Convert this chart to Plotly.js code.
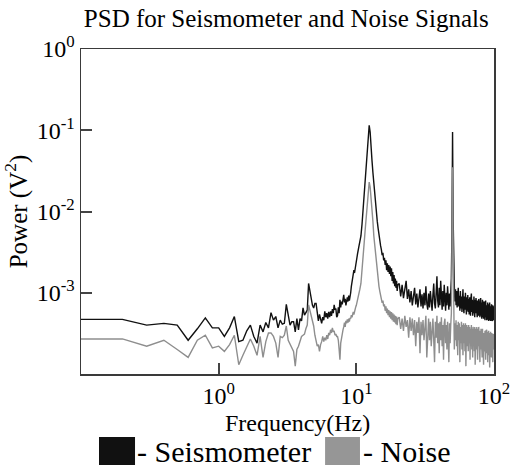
<!DOCTYPE html>
<html>
<head>
<meta charset="utf-8">
<script src="https://cdn.plot.ly/plotly-3.0.1.min.js"></script>
<style>html,body{margin:0;padding:0;background:#fff;}#chart{width:513px;height:468px;}</style>
</head>
<body>
<div id="chart"></div>
<script>
// Frequency bins (Hz), segment A: 0.1 - 9.9
const freqA = [
0.1,0.2,0.3,0.4,0.5,0.6,0.7,0.8,0.9,1.0,
1.1,1.2,1.3,1.4,1.5,1.6,1.7,1.8,1.9,2.0,
2.1,2.2,2.3,2.4,2.5,2.6,2.7,2.8,2.9,3.0,
3.1,3.2,3.3,3.4,3.5,3.6,3.7,3.8,3.9,4.0,
4.1,4.2,4.3,4.4,4.5,4.6,4.7,4.8,4.9,5.0,
5.1,5.2,5.3,5.4,5.5,5.6,5.7,5.8,5.9,6.0,
6.1,6.2,6.3,6.4,6.5,6.6,6.7,6.8,6.9,7.0,
7.1,7.2,7.3,7.4,7.5,7.6,7.7,7.8,7.9,8.0,
8.1,8.2,8.3,8.4,8.5,8.6,8.7,8.8,8.9,9.0,
9.1,9.2,9.3,9.4,9.5,9.6,9.7,9.8,9.9
];
const seisA = [
4.7e-4,4.7e-4,4.0e-4,4.2e-4,4.0e-4,2.6e-4,3.6e-4,4.9e-4,3.7e-4,3.7e-4,
2.9e-4,3.7e-4,5.1e-4,2.5e-4,2.6e-4,3.4e-4,4.0e-4,2.9e-4,2.4e-4,4.0e-4,
3.3e-4,4.3e-4,3.7e-4,5.7e-4,4.6e-4,5.1e-4,3.7e-4,4.6e-4,4.1e-4,4.2e-4,
7.2e-4,5.1e-4,4.0e-4,4.4e-4,4.4e-4,3.3e-4,4.8e-4,3.5e-4,4.8e-4,4.5e-4,
6.5e-4,5.3e-4,5.8e-4,6.1e-4,1.3e-3,1.0e-3,8.2e-4,7.0e-4,6.5e-4,7.4e-4,
7.4e-4,5.2e-4,4.5e-4,5.4e-4,4.8e-4,4.2e-4,5.0e-4,4.6e-4,5.9e-4,5.0e-4,
5.6e-4,4.8e-4,5.8e-4,5.0e-4,5.9e-4,5.2e-4,6.3e-4,5.6e-4,7.1e-4,6.2e-4,
6.4e-4,5.0e-4,5.2e-4,6.6e-4,5.6e-4,8.2e-4,6.6e-4,7.8e-4,7.2e-4,8.6e-4,
9.4e-4,7.6e-4,8.4e-4,7.0e-4,7.6e-4,8.8e-4,7.8e-4,9.2e-4,8.0e-4,8.8e-4,
1.0e-3,1.2e-3,1.4e-3,1.5e-3,1.6e-3,1.9e-3,1.75e-3,2.0e-3,2.3e-3
];
const noiseA = [
2.7e-4,2.7e-4,2.2e-4,2.6e-4,2.0e-4,1.6e-4,2.6e-4,3.0e-4,2.1e-4,2.2e-4,
1.9e-4,2.3e-4,3.0e-4,1.3e-4,1.7e-4,2.2e-4,2.7e-4,2.2e-4,1.7e-4,2.9e-4,
1.6e-4,2.5e-4,3.2e-4,3.2e-4,2.9e-4,2.4e-4,1.6e-4,2.9e-4,2.8e-4,3.0e-4,
3.9e-4,2.6e-4,2.3e-4,2.1e-4,1.9e-4,1.25e-4,2.0e-4,2.2e-4,2.6e-4,2.9e-4,
3.0e-4,3.1e-4,3.6e-4,4.0e-4,7.1e-4,6.0e-4,5.3e-4,4.2e-4,3.9e-4,3.0e-4,
2.6e-4,2.2e-4,2.3e-4,1.9e-4,2.3e-4,2.5e-4,2.9e-4,2.5e-4,2.8e-4,2.6e-4,
3.0e-4,2.7e-4,3.2e-4,3.0e-4,3.5e-4,3.2e-4,3.7e-4,3.3e-4,3.4e-4,3.0e-4,
3.1e-4,2.9e-4,2.9e-4,2.6e-4,2.0e-4,1.5e-4,2.4e-4,2.9e-4,3.0e-4,3.5e-4,
3.8e-4,4.3e-4,3.8e-4,4.5e-4,4.2e-4,4.7e-4,4.3e-4,4.8e-4,4.4e-4,4.9e-4,
4.8e-4,5.3e-4,5.0e-4,5.6e-4,5.8e-4,5.4e-4,6.0e-4,6.4e-4,6.7e-4
];

// Segment B: 10.0 - 20.0
const freqB = [
10.0,10.2,10.4,10.6,10.8,11.0,11.2,11.4,11.6,11.8,
12.0,12.2,12.4,12.6,12.8,13.0,13.2,13.4,13.6,13.8,
14.0,14.2,14.4,14.6,14.8,15.0,15.2,15.4,15.6,15.8,
16.0,16.2,16.4,16.6,16.8,17.0,17.2,17.4,17.6,17.8,
18.0,18.2,18.4,18.6,18.8,19.0,19.2,19.4,19.6,19.8,
20.0
];
const seisB = [
2.6e-3,3.0e-3,3.6e-3,4.2e-3,5.0e-3,7.0e-3,1.1e-2,1.8e-2,2.6e-2,3.8e-2,
5.5e-2,8.0e-2,0.115,0.095,0.07,4.2e-2,3.0e-2,2.2e-2,1.5e-2,1.1e-2,
9.5e-3,7.5e-3,6.2e-3,5.0e-3,4.6e-3,3.8e-3,3.4e-3,2.9e-3,3.1e-3,2.5e-3,
2.7e-3,2.2e-3,2.5e-3,1.9e-3,2.3e-3,1.8e-3,2.2e-3,1.7e-3,2.1e-3,1.6e-3,
2.0e-3,1.4e-3,1.8e-3,1.3e-3,1.65e-3,1.2e-3,1.5e-3,1.15e-3,1.4e-3,1.05e-3,
1.25e-3
];
const noiseB = [
7.0e-4,8.0e-4,9.5e-4,1.1e-3,1.3e-3,1.8e-3,2.8e-3,4.1e-3,6.0e-3,9.0e-3,
1.3e-2,1.8e-2,2.3e-2,2.0e-2,1.5e-2,1.05e-2,7.5e-3,5.0e-3,3.8e-3,2.8e-3,
2.2e-3,1.7e-3,1.4e-3,1.2e-3,1.05e-3,9.5e-4,8.8e-4,7.5e-4,8.0e-4,6.8e-4,
7.2e-4,6.0e-4,6.8e-4,5.6e-4,6.4e-4,5.3e-4,6.1e-4,5.0e-4,5.9e-4,4.8e-4,
5.8e-4,4.6e-4,5.6e-4,4.4e-4,5.4e-4,4.3e-4,5.2e-4,4.1e-4,5.1e-4,4.0e-4,
4.8e-4
];

// Segment C: 20.5 - 100
const freqC = [
20.5,21.0,21.5,22.0,22.5,23.0,23.5,24.0,24.5,25.0,
25.5,26.0,26.5,27.0,27.5,28.0,28.5,29.0,29.5,30.0,
30.5,31.0,31.5,32.0,32.5,33.0,33.5,34.0,34.5,35.0,
35.5,36.0,36.5,37.0,37.5,38.0,38.5,39.0,39.5,40.0,
40.5,41.0,41.5,42.0,42.5,43.0,43.5,44.0,44.5,45.0,
45.5,46.0,46.5,47.0,47.5,48.0,48.5,49.0,49.5,50.0,
50.5,51.0,51.5,52.0,52.5,53.0,53.5,54.0,54.5,55.0,
55.5,56.0,56.5,57.0,57.5,58.0,58.5,59.0,59.5,60.0,
60.5,61.0,61.5,62.0,62.5,63.0,63.5,64.0,64.5,65.0,
65.5,66.0,66.5,67.0,67.5,68.0,68.5,69.0,69.5,70.0,
70.5,71.0,71.5,72.0,72.5,73.0,73.5,74.0,74.5,75.0,
75.5,76.0,76.5,77.0,77.5,78.0,78.5,79.0,79.5,80.0,
80.5,81.0,81.5,82.0,82.5,83.0,83.5,84.0,84.5,85.0,
85.5,86.0,86.5,87.0,87.5,88.0,88.5,89.0,89.5,90.0,
90.5,91.0,91.5,92.0,92.5,93.0,93.5,94.0,94.5,95.0,
95.5,96.0,96.5,97.0,97.5,98.0,98.5,99.0,99.5,100.0
];
const seisC = [
1.3e-3,9.0e-4,1.25e-3,8.6e-4,1.2e-3,1.4e-3,8.4e-4,1.1e-3,7.6e-4,1.05e-3,
7.0e-4,1.0e-3,1.15e-3,7.2e-4,9.8e-4,6.6e-4,9.4e-4,1.1e-3,6.8e-4,9.6e-4,
6.4e-4,1.0e-3,7.0e-4,1.2e-3,7.4e-4,6.2e-4,9.8e-4,6.6e-4,1.05e-3,7.2e-4,
6.0e-4,9.4e-4,1.3e-3,7.4e-4,6.4e-4,1.0e-3,1.6e-3,8.0e-4,6.6e-4,1.15e-3,
7.0e-4,1.4e-3,7.8e-4,6.2e-4,1.05e-3,6.8e-4,1.25e-3,7.2e-4,6.0e-4,1.0e-3,
7.0e-4,1.2e-3,7.6e-4,6.2e-4,9.8e-4,6.8e-4,1.0e-3,1.5e-3,6.0e-3,9.5e-2,
8.0e-3,1.7e-3,1.2e-3,7.8e-4,1.1e-3,7.0e-4,1.05e-3,6.6e-4,9.6e-4,1.15e-3,
6.8e-4,9.2e-4,6.0e-4,1.05e-3,6.4e-4,9.0e-4,5.8e-4,9.6e-4,1.1e-3,6.6e-4,
5.6e-4,9.0e-4,6.2e-4,1.0e-3,6.4e-4,5.4e-4,8.8e-4,6.0e-4,9.4e-4,5.8e-4,
8.4e-4,5.4e-4,8.8e-4,6.2e-4,5.2e-4,8.6e-4,9.8e-4,5.8e-4,8.2e-4,5.2e-4,
8.0e-4,5.6e-4,9.0e-4,5.8e-4,5.0e-4,8.2e-4,5.6e-4,8.6e-4,5.4e-4,7.8e-4,
5.0e-4,8.0e-4,5.8e-4,5.2e-4,8.4e-4,5.4e-4,7.8e-4,5.0e-4,7.6e-4,8.6e-4,
5.2e-4,7.6e-4,4.8e-4,7.4e-4,8.2e-4,5.0e-4,7.2e-4,4.8e-4,7.8e-4,5.2e-4,
7.4e-4,4.6e-4,7.2e-4,8.0e-4,5.0e-4,7.0e-4,4.6e-4,7.4e-4,5.0e-4,7.6e-4,
4.8e-4,7.0e-4,4.5e-4,7.2e-4,5.0e-4,7.6e-4,4.6e-4,6.8e-4,4.5e-4,7.0e-4,
4.8e-4,7.2e-4,4.6e-4,6.8e-4,4.5e-4,7.0e-4,4.8e-4,6.8e-4,4.6e-4,6.4e-4
];
const noiseC = [
5.0e-4,3.6e-4,4.8e-4,3.4e-4,5.2e-4,3.8e-4,4.6e-4,2.8e-4,5.0e-4,3.4e-4,
4.8e-4,3.0e-4,4.6e-4,2.2e-4,4.4e-4,3.2e-4,5.0e-4,1.8e-4,4.4e-4,3.0e-4,
4.6e-4,2.6e-4,4.2e-4,5.2e-4,1.6e-4,4.0e-4,4.8e-4,2.6e-4,4.4e-4,2.2e-4,
4.2e-4,4.8e-4,2.6e-4,1.4e-4,4.4e-4,2.8e-4,5.2e-4,2.4e-4,4.2e-4,1.8e-4,
4.4e-4,2.6e-4,5.0e-4,2.2e-4,4.0e-4,1.5e-4,4.2e-4,4.8e-4,2.4e-4,4.0e-4,
2.0e-4,4.4e-4,2.6e-4,1.4e-4,4.2e-4,2.4e-4,4.0e-4,5.5e-4,3.0e-3,3.5e-2,
3.5e-3,5.5e-4,2.0e-4,4.2e-4,2.6e-4,4.6e-4,2.2e-4,4.0e-4,1.7e-4,4.4e-4,
2.6e-4,4.2e-4,1.4e-4,3.8e-4,2.4e-4,4.4e-4,2.0e-4,4.0e-4,1.7e-4,4.2e-4,
2.4e-4,4.0e-4,1.9e-4,4.2e-4,1.25e-4,3.6e-4,4.0e-4,2.2e-4,3.8e-4,1.9e-4,
4.0e-4,2.4e-4,3.8e-4,1.5e-4,3.6e-4,2.2e-4,4.0e-4,2.0e-4,3.6e-4,1.6e-4,
3.8e-4,2.2e-4,3.6e-4,1.9e-4,3.8e-4,1.3e-4,3.4e-4,3.6e-4,2.0e-4,3.8e-4,
2.2e-4,1.5e-4,3.6e-4,2.2e-4,3.8e-4,1.9e-4,3.4e-4,1.4e-4,3.4e-4,2.0e-4,
3.6e-4,1.9e-4,3.4e-4,1.6e-4,3.6e-4,2.0e-4,3.4e-4,1.3e-4,3.2e-4,2.4e-4,
1.9e-4,3.4e-4,2.0e-4,1.5e-4,3.4e-4,2.1e-4,3.5e-4,1.8e-4,3.2e-4,1.4e-4,
3.3e-4,1.9e-4,3.4e-4,1.7e-4,3.2e-4,1.2e-4,3.2e-4,1.9e-4,3.3e-4,1.8e-4,
3.1e-4,1.6e-4,3.2e-4,1.9e-4,3.0e-4,1.4e-4,3.1e-4,1.9e-4,3.0e-4,2.0e-4
];

const xTickVals = [1, 10, 100];
const xTickText = ['10<sup>0</sup>', '10<sup>1</sup>', '10<sup>2</sup>'];
const yTickVals = [1, 0.1, 0.01, 0.001];
const yTickText = ['10<sup>0</sup>', '10<sup>-1</sup>', '10<sup>-2</sup>', '10<sup>-3</sup>'];
const seriesNames = ['Seismometer', 'Noise'];
const seriesColors = ['#111111', '#8e8e8e'];

const freq = freqA.concat(freqB, freqC);
const seis = seisA.concat(seisB, seisC);
const noise = noiseA.concat(noiseB, noiseC);

const serif = 'Liberation Serif';

const traces = [
  {x: freq, y: seis, type: 'scatter', mode: 'lines', name: seriesNames[0],
   line: {color: seriesColors[0], width: 1.4}},
  {x: freq, y: noise, type: 'scatter', mode: 'lines', name: seriesNames[1],
   line: {color: seriesColors[1], width: 1.4}}
];

const axisCommon = {
  type: 'log', showgrid: false, zeroline: false,
  showline: true, mirror: true, linecolor: '#3a3a3a', linewidth: 1.5,
  ticks: 'inside', ticklen: 11, tickwidth: 2, tickcolor: '#444',
  tickfont: {family: serif, size: 24, color: '#000'}
};

const layout = {
  width: 513, height: 468,
  margin: {l: 81, r: 19, t: 49, b: 94},
  paper_bgcolor: '#fff', plot_bgcolor: '#fff',
  showlegend: false,
  font: {family: serif, color: '#000'},
  title: {text: 'PSD for Seismometer and Noise Signals', font: {family: serif, size: 25, color: '#000'},
          xref: 'container', x: 0.558, xanchor: 'center', yref: 'container', y: 0.962, yanchor: 'middle'},
  xaxis: Object.assign({}, axisCommon, {
    range: [-1, 2], tickvals: xTickVals, ticktext: xTickText
  }),
  yaxis: Object.assign({}, axisCommon, {
    range: [-4, 0], tickvals: yTickVals, ticktext: yTickText,
    title: {text: 'Power (V<sup>2</sup>)', font: {family: serif, size: 25, color: '#000'}, standoff: 6}
  }),
  shapes: [
    {type: 'rect', xref: 'paper', yref: 'paper', x0: 0.0436, x1: 0.1308, y0: -0.194, y1: -0.28,
     fillcolor: seriesColors[0], line: {width: 0}},
    {type: 'rect', xref: 'paper', yref: 'paper', x0: 0.591, x1: 0.6755, y0: -0.194, y1: -0.28,
     fillcolor: '#969696', line: {width: 0}}
  ],
  annotations: [
    {xref: 'paper', yref: 'paper', x: 0.525, y: -0.152, xanchor: 'center', yanchor: 'middle',
     text: 'Frequency(Hz)', showarrow: false, font: {family: serif, size: 24, color: '#000'}},
    {xref: 'paper', yref: 'paper', x: 0.1308, y: -0.237, xanchor: 'left', yanchor: 'middle',
     text: '- ' + seriesNames[0], showarrow: false, font: {family: serif, size: 30, color: '#000'}},
    {xref: 'paper', yref: 'paper', x: 0.6775, y: -0.237, xanchor: 'left', yanchor: 'middle',
     text: '- ' + seriesNames[1], showarrow: false, font: {family: serif, size: 30, color: '#000'}}
  ]
};

Plotly.newPlot('chart', traces, layout, {staticPlot: true, displayModeBar: false});
</script>
</body>
</html>
